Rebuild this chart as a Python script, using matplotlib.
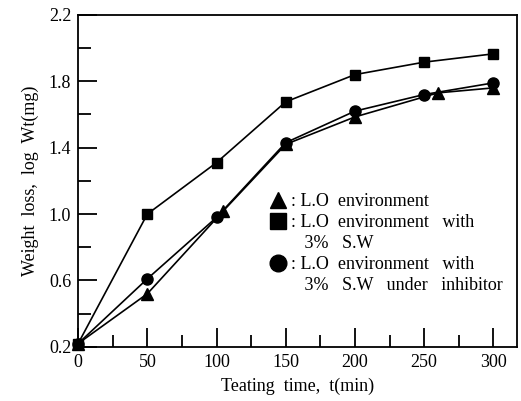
import numpy as np
import matplotlib
matplotlib.use("Agg")
import matplotlib.pyplot as plt
from matplotlib.lines import Line2D

plt.rcParams['font.family'] = ['Liberation Serif', 'DejaVu Serif']

# data
t_tri = [0, 50, 105, 150, 200, 260, 300]
w_tri = [0.22, 0.52, 1.02, 1.42, 1.585, 1.73, 1.76]
t_sq = [0, 50, 100, 150, 200, 250, 300]
w_sq = [0.22, 1.00, 1.31, 1.676, 1.84, 1.915, 1.965]
t_ci = [0, 50, 100, 150, 200, 250, 300]
w_ci = [0.22, 0.61, 0.98, 1.43, 1.62, 1.72, 1.79]

legend_labels = [": L.O  environment", ": L.O  environment   with", "   3%   S.W",
                 ": L.O  environment   with", "   3%   S.W   under   inhibitor"]
legend_markers = ["^", "s", None, "o", None]

xticks = [0, 50, 100, 150, 200, 250, 300]
yticks = [0.2, 0.6, 1.0, 1.4, 1.8, 2.2]

fig = plt.figure(figsize=(5.21, 4.01), dpi=100)
ax = fig.add_axes([0.150, 0.135, 0.842, 0.828])

ax.plot(t_tri, w_tri, marker="^", markersize=8, color="black", linewidth=1.2, clip_on=False, zorder=3)
ax.plot(t_sq, w_sq, marker="s", markersize=7, color="black", linewidth=1.2, clip_on=False, zorder=3)
ax.plot(t_ci, w_ci, marker="o", markersize=8, color="black", linewidth=1.2, clip_on=False, zorder=3)

ax.set_xlim(0, 317)
ax.set_ylim(0.2, 2.2)
ax.set_xticks(xticks)
ax.set_xticks([25, 75, 125, 175, 225, 275], minor=True)
ax.set_yticks(yticks)
ax.set_yticks([0.4, 0.8, 1.2, 1.6, 2.0], minor=True)
ax.set_yticklabels(["%.1f" % v for v in yticks])
ax.tick_params(which="major", direction="in", length=14, width=1.3, labelsize=13, pad=5)
ax.tick_params(which="minor", direction="in", length=9, width=1.3)
for s in ax.spines.values():
    s.set_linewidth(1.3)

ax.set_xlabel("Teating  time,  t(min)", fontsize=13, labelpad=5)
ax.set_ylabel("Weight  loss,  log  Wt(mg)", fontsize=13, labelpad=7)

handles = []
for m in legend_markers:
    if m is None:
        handles.append(Line2D([], [], linestyle="none", marker=None))
    else:
        handles.append(Line2D([], [], linestyle="none", marker=m, color="black", markersize=12))
ax.legend(handles, legend_labels, loc="upper left", bbox_to_anchor=(0.42, 0.49),
          frameon=False, fontsize=13, handlelength=0.7, handletextpad=0.4,
          labelspacing=0.22, borderpad=0)

fig.savefig("out.png", dpi=100)
